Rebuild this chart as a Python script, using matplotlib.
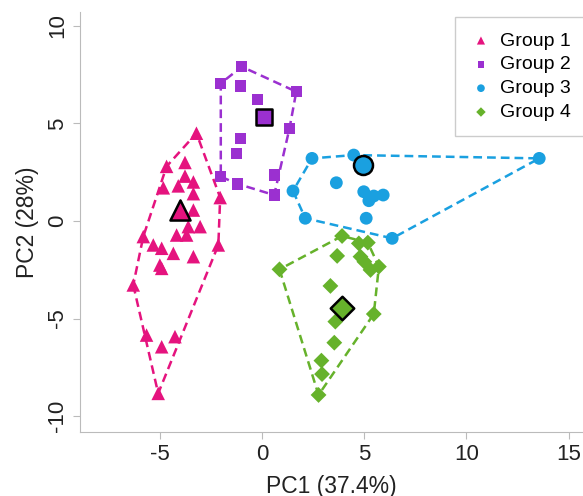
import matplotlib
matplotlib.use('Agg')
import matplotlib.pyplot as plt
import numpy as np

plt.rcParams['font.family'] = ['Liberation Sans', 'DejaVu Sans']

# PCA scores
g1_x = [-3.2, -4.66, -3.76, -3.76, -3.35, -4.82, -4.09, -3.35, -2.04, -3.35, -3.02, -3.6,
        -4.17, -3.68, -5.8, -5.31, -4.9, -4.33, -3.35, -4.99, -4.9, -2.13, -6.29, -5.64,
        -4.25, -4.9, -5.07]
g1_y = [4.5, 2.8, 3.0, 2.3, 2.0, 1.7, 1.8, 1.4, 1.2, 0.56, -0.29, -0.29,
        -0.72, -0.72, -0.8, -1.23, -1.4, -1.66, -1.83, -2.26, -2.43, -1.23, -3.28, -5.85,
        -5.93, -6.45, -8.84]

g2_x = [-0.98, -2.01, -1.03, 1.68, -0.21, 1.35, -1.03, -1.26, -2.01, 0.6, -1.18, 0.6]
g2_y = [7.91, 7.06, 6.92, 6.63, 6.24, 4.75, 4.21, 3.47, 2.27, 2.36, 1.9, 1.33]

g3_x = [2.45, 4.49, 13.56, 3.64, 1.52, 4.98, 5.47, 5.93, 5.23, 2.12, 5.1, 6.37, 4.95]
g3_y = [3.21, 3.38, 3.21, 1.96, 1.54, 1.5, 1.28, 1.33, 1.04, 0.14, 0.14, -0.89, 2.87]

g4_x = [3.92, 4.74, 5.18, 0.86, 3.68, 4.82, 5.01, 5.31, 5.72, 3.35, 5.47, 3.59, 3.54,
        2.91, 2.94, 2.77]
g4_y = [-0.77, -1.15, -1.11, -2.48, -1.79, -1.83, -2.09, -2.51, -2.34, -3.33, -4.77,
        -5.16, -6.24, -7.16, -7.85, -8.92]

cent_x = [-4.0, 0.08, 4.95, 3.92]
cent_y = [0.56, 5.32, 2.87, -4.48]

labels = ['Group 1', 'Group 2', 'Group 3', 'Group 4']
colors = ['#E5137E', '#9B30D0', '#1AA0E0', '#66B22B']
markers = ['^', 's', 'o', 'D']
sizes = [95, 65, 85, 65]


def hull(xs, ys):
    pts = sorted(set(zip(xs, ys)))
    def cross(o, a, b):
        return (a[0] - o[0]) * (b[1] - o[1]) - (a[1] - o[1]) * (b[0] - o[0])
    lower = []
    for p in pts:
        while len(lower) >= 2 and cross(lower[-2], lower[-1], p) <= 0:
            lower.pop()
        lower.append(p)
    upper = []
    for p in reversed(pts):
        while len(upper) >= 2 and cross(upper[-2], upper[-1], p) <= 0:
            upper.pop()
        upper.append(p)
    h = lower[:-1] + upper[:-1]
    h.append(h[0])
    return np.array(h)


fig = plt.figure(figsize=(5.83, 4.96), dpi=100)
ax = fig.add_axes([0.137, 0.129, 0.863, 0.847])

groups = [(g1_x, g1_y), (g2_x, g2_y), (g3_x, g3_y), (g4_x, g4_y)]
for i, (gx, gy) in enumerate(groups):
    h = hull(gx, gy)
    ax.plot(h[:, 0], h[:, 1], '--', color=colors[i], lw=1.8, dashes=(3.5, 2), zorder=2)
    ax.scatter(gx, gy, marker=markers[i], s=sizes[i], color=colors[i],
               edgecolors='none', zorder=3, label=labels[i])
    ax.scatter(cent_x[i], cent_y[i], marker=markers[i], s=sizes[i] * 2.2,
               color=colors[i], edgecolors='black', linewidths=1.8, zorder=4)

ax.set_xlim(-8.9, 15.7)
ax.set_ylim(-10.82, 10.72)
ax.set_xticks([-5, 0, 5, 10, 15])
ax.set_yticks([-10, -5, 0, 5, 10])
ax.set_yticklabels(['-10', '-5', '0', '5', '10'], rotation=90, va='center')
ax.set_xticklabels(['-5', '0', '5', '10', '15'])
ax.tick_params(colors='#bbbbbb', labelcolor='#222222', labelsize=16, length=5)
for s in ['top', 'right']:
    ax.spines[s].set_visible(False)
for s in ['left', 'bottom']:
    ax.spines[s].set_color('#bbbbbb')

ax.set_xlabel('PC1 (37.4%)', fontsize=16.5, color='#222222', labelpad=7)
ax.set_ylabel('PC2 (28%)', fontsize=16.5, color='#222222', labelpad=6)

leg = ax.legend(loc='upper right', bbox_to_anchor=(1.025, 1.01), fontsize=14,
                markerscale=0.6, handletextpad=0.4, labelspacing=0.32,
                fancybox=False, edgecolor='#cccccc', framealpha=1, borderpad=0.75,
                handlelength=1.2)

plt.savefig('out.png', dpi=100)
